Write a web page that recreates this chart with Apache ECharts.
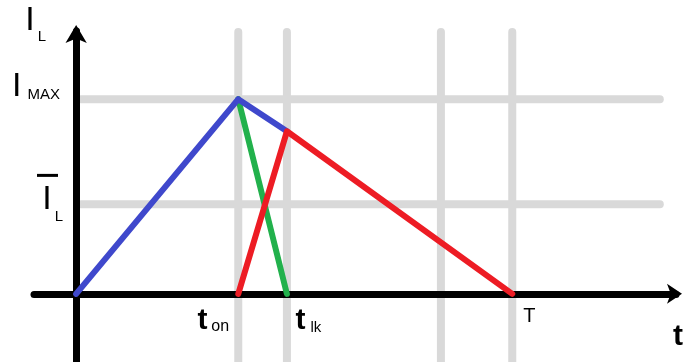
<!DOCTYPE html>
<html>
<head>
<meta charset="utf-8">
<script src="https://cdn.jsdelivr.net/npm/echarts@6/dist/echarts.min.js"></script>
<style>
  html, body { margin: 0; padding: 0; background: #fff; }
  #chart { width: 684px; height: 362px; }
</style>
</head>
<body>
<div id="chart"></div>
<script>
// inductor current over one period (arbitrary units)
const xTickValues = [10, 13, 26.9];
const xTickMain = ["t", "t", "T"];
const xTickSub = ["on", "lk", ""];
const yTickValues = [10, 4.6];
const yTickMain = ["I", "I"];
const yTickSub = ["MAX", "L"];
const yTickBar = [false, true];

const gridXs = [10, 13, 22.5, 26.9];
const gridYs = [10, 4.6];

const blueLine = [[0, 0], [10, 10], [13, 8.35]];
const greenLine = [[10, 10], [13, 0]];
const redLine = [[10, 0], [13, 8.35], [26.9, 0]];

const FONT = "'Liberation Sans', Arial, sans-serif";
const GRAY = "#d9d9d9";

const chart = echarts.init(document.getElementById("chart"), null, { renderer: "canvas" });

const findIdx = (arr, v) => arr.findIndex((a) => Math.abs(a - v) < 1e-6);

const grayStyle = { color: GRAY, width: 8, cap: "round" };
const graySeries = [
  ...gridXs.map((x) => ({
    type: "line",
    data: [[x, 13.45], [x, -3.5]],
  })),
  ...gridYs.map((y) => ({
    type: "line",
    data: [[0.3, y], [36.0, y]],
  })),
].map((s) => ({
  ...s,
  symbol: "none",
  silent: true,
  clip: false,
  z: 1,
  lineStyle: grayStyle,
}));

const curve = (data, color) => ({
  type: "line",
  data: data,
  symbol: "none",
  silent: true,
  clip: false,
  z: 5,
  lineStyle: { color: color, width: 6, cap: "round", join: "round" },
});

// t_on and t_lk boxes overlap, so keep them apart in the first/last slots
// (echarts hides an overlapping first or last label)
const xLabelOrder = [1, 2, 0].map((i) => xTickValues[i]);

const option = {
  animation: false,
  backgroundColor: "#fff",
  grid: {
    left: 34,
    right: 8,
    top: 31,
    bottom: 0,
    containLabel: false,
    outerBoundsMode: "none",
  },
  xAxis: {
    type: "value",
    min: -2.6,
    max: 37,
    z: 3,
    name: "{tn|t}",
    nameLocation: "end",
    nameGap: 2,
    nameTextStyle: {
      align: "center",
      verticalAlign: "middle",
      color: "#000",
      fontFamily: FONT,
      rich: {
        tn: { fontSize: 30, fontWeight: "bold", lineHeight: 30, verticalAlign: "middle", padding: [85, 0, 0, 0], fontFamily: FONT },
      },
    },
    axisLine: {
      onZero: true,
      symbol: ["none", "arrow"],
      symbolSize: [15, 15],
      symbolOffset: [0, 6],
      lineStyle: { color: "#000", width: 7, cap: "round" },
    },
    axisTick: { show: false },
    splitLine: { show: false },
    axisLabel: {
      customValues: xLabelOrder,
      hideOverlap: false,
      // labels sit on the grid edge, not on the zero line
      margin: -41,
      align: "center",
      verticalAlign: "middle",
      color: "#000",
      fontFamily: FONT,
      formatter: (v) => {
        const i = findIdx(xTickValues, v);
        if (i < 0) return "";
        return `{xm${i}|${xTickMain[i]}}` + (xTickSub[i] ? `{xs${i}|${xTickSub[i]}}` : "");
      },
      rich: {
        xm0: { fontSize: 30, fontWeight: "bold", lineHeight: 30, verticalAlign: "middle", padding: [0, 4, 0, 0], fontFamily: FONT },
        xs0: { fontSize: 16, lineHeight: 16, verticalAlign: "middle", padding: [11, 50, 0, 0], fontFamily: FONT },
        xm1: { fontSize: 30, fontWeight: "bold", lineHeight: 30, verticalAlign: "middle", padding: [0, 5, 0, 43], fontFamily: FONT },
        xs1: { fontSize: 15, lineHeight: 15, verticalAlign: "middle", padding: [14, 0, 0, 0], fontFamily: FONT },
        xm2: { fontSize: 20, lineHeight: 20, verticalAlign: "middle", padding: [0, 0, 9, 34], fontFamily: FONT },
      },
    },
  },
  yAxis: {
    type: "value",
    min: -3.5,
    max: 13.5,
    z: 3,
    name: "{nm|I}{ns|L}",
    nameLocation: "end",
    nameGap: 10,
    nameTextStyle: {
      align: "right",
      verticalAlign: "middle",
      color: "#000",
      fontFamily: FONT,
      rich: {
        nm: { fontSize: 34, lineHeight: 34, verticalAlign: "middle", padding: [0, 3, 0, 0], fontFamily: FONT },
        ns: { fontSize: 15, lineHeight: 15, verticalAlign: "middle", padding: [32, 30, 0, 0], fontFamily: FONT },
      },
    },
    axisLine: {
      onZero: true,
      symbol: ["none", "arrow"],
      symbolSize: [16, 18],
      symbolOffset: [0, 6],
      lineStyle: { color: "#000", width: 7, cap: "round" },
    },
    axisTick: { show: false },
    splitLine: { show: false },
    axisLabel: {
      customValues: yTickValues,
      showMinLabel: true,
      showMaxLabel: true,
      margin: -29,
      align: "right",
      verticalAlign: "middle",
      color: "#000",
      fontFamily: FONT,
      formatter: (v) => {
        const i = findIdx(yTickValues, v);
        if (i < 0) return "";
        const bar = yTickBar[i] ? `{yo${i}|}{yg${i}|}\n` : "";
        return bar + `{ym${i}|${yTickMain[i]}}{ys${i}|${yTickSub[i]}}`;
      },
      rich: {
        ym0: { fontSize: 34, lineHeight: 34, verticalAlign: "middle", padding: [0, 3, 25, 0], fontFamily: FONT },
        ys0: { fontSize: 15, lineHeight: 15, verticalAlign: "middle", padding: [0, 3, 8, 3], fontFamily: FONT },
        yo1: { width: 21, height: 3, backgroundColor: "#000" },
        yg1: { width: 5, height: 3 },
        ym1: { fontSize: 34, lineHeight: 57.8, verticalAlign: "middle", padding: [0, 3, 12.8, 0], fontFamily: FONT },
        ys1: { fontSize: 15, lineHeight: 15, verticalAlign: "middle", padding: [23, 0, 0, 0], fontFamily: FONT },
      },
    },
  },
  series: [
    ...graySeries,
    curve(greenLine, "#22b14c"),
    curve(blueLine, "#3f48cc"),
    curve(redLine, "#ed1c24"),
  ],
};

chart.setOption(option);
</script>
</body>
</html>
